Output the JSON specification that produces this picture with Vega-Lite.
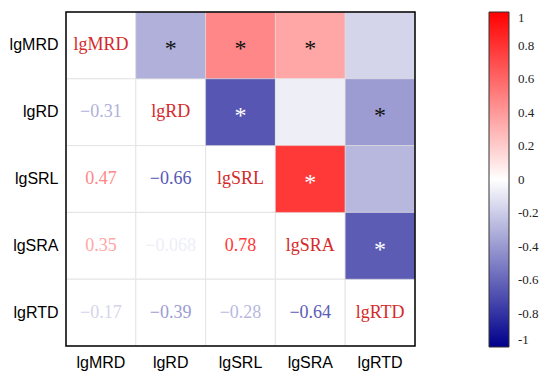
{
  "$schema": "https://vega.github.io/schema/vega-lite/v6.json",
  "width": 349,
  "height": 334,
  "autosize": {"type": "none"},
  "padding": {"left": 66, "top": 12, "right": 135, "bottom": 33},
  "background": "white",
  "config": {
    "view": {"stroke": "black", "strokeWidth": 1.5},
    "style": {"cell": {"strokeForeground": true}},
    "axis": {"domain": false, "ticks": false, "grid": false, "labelFont": "Liberation Sans", "labelFontSize": 16, "labelColor": "black", "title": null, "labelPadding": 8}
  },
  "data": {
    "values": [
      {"row": "lgMRD", "col": "lgMRD", "r": 1, "kind": "diag", "label": "lgMRD", "star": ""},
      {"row": "lgMRD", "col": "lgRD", "r": -0.31, "kind": "upper", "label": "", "star": "*"},
      {"row": "lgMRD", "col": "lgSRL", "r": 0.47, "kind": "upper", "label": "", "star": "*"},
      {"row": "lgMRD", "col": "lgSRA", "r": 0.35, "kind": "upper", "label": "", "star": "*"},
      {"row": "lgMRD", "col": "lgRTD", "r": -0.17, "kind": "upper", "label": "", "star": ""},
      {"row": "lgRD", "col": "lgMRD", "r": -0.31, "kind": "lower", "label": "−0.31", "star": ""},
      {"row": "lgRD", "col": "lgRD", "r": 1, "kind": "diag", "label": "lgRD", "star": ""},
      {"row": "lgRD", "col": "lgSRL", "r": -0.66, "kind": "upper", "label": "", "star": "*"},
      {"row": "lgRD", "col": "lgSRA", "r": -0.068, "kind": "upper", "label": "", "star": ""},
      {"row": "lgRD", "col": "lgRTD", "r": -0.39, "kind": "upper", "label": "", "star": "*"},
      {"row": "lgSRL", "col": "lgMRD", "r": 0.47, "kind": "lower", "label": "0.47", "star": ""},
      {"row": "lgSRL", "col": "lgRD", "r": -0.66, "kind": "lower", "label": "−0.66", "star": ""},
      {"row": "lgSRL", "col": "lgSRL", "r": 1, "kind": "diag", "label": "lgSRL", "star": ""},
      {"row": "lgSRL", "col": "lgSRA", "r": 0.78, "kind": "upper", "label": "", "star": "*"},
      {"row": "lgSRL", "col": "lgRTD", "r": -0.28, "kind": "upper", "label": "", "star": ""},
      {"row": "lgSRA", "col": "lgMRD", "r": 0.35, "kind": "lower", "label": "0.35", "star": ""},
      {"row": "lgSRA", "col": "lgRD", "r": -0.068, "kind": "lower", "label": "−0.068", "star": ""},
      {"row": "lgSRA", "col": "lgSRL", "r": 0.78, "kind": "lower", "label": "0.78", "star": ""},
      {"row": "lgSRA", "col": "lgSRA", "r": 1, "kind": "diag", "label": "lgSRA", "star": ""},
      {"row": "lgSRA", "col": "lgRTD", "r": -0.64, "kind": "upper", "label": "", "star": "*"},
      {"row": "lgRTD", "col": "lgMRD", "r": -0.17, "kind": "lower", "label": "−0.17", "star": ""},
      {"row": "lgRTD", "col": "lgRD", "r": -0.39, "kind": "lower", "label": "−0.39", "star": ""},
      {"row": "lgRTD", "col": "lgSRL", "r": -0.28, "kind": "lower", "label": "−0.28", "star": ""},
      {"row": "lgRTD", "col": "lgSRA", "r": -0.64, "kind": "lower", "label": "−0.64", "star": ""},
      {"row": "lgRTD", "col": "lgRTD", "r": 1, "kind": "diag", "label": "lgRTD", "star": ""}
    ]
  },
  "encoding": {
    "x": {"field": "col", "type": "nominal", "sort": ["lgMRD", "lgRD", "lgSRL", "lgSRA", "lgRTD"], "scale": {"paddingInner": 0, "paddingOuter": 0}, "axis": {"orient": "bottom", "labelAngle": 0}},
    "y": {"field": "row", "type": "nominal", "sort": ["lgMRD", "lgRD", "lgSRL", "lgSRA", "lgRTD"], "scale": {"paddingInner": 0, "paddingOuter": 0}}
  },
  "layer": [
    {
      "mark": {"type": "rect", "fill": "white", "stroke": "#e4e4e4", "strokeWidth": 1}
    },
    {
      "transform": [{"filter": "datum.kind === 'upper'"}],
      "mark": {"type": "rect", "stroke": "#e4e4e4", "strokeWidth": 0.5},
      "encoding": {
        "fill": {
          "field": "r", "type": "quantitative",
          "scale": {"domain": [-1, 0, 1], "range": ["#00008c", "#ffffff", "#ff0000"], "interpolate": "rgb"},
          "legend": {
            "orient": "none", "legendX": 423, "legendY": 0, "direction": "vertical",
            "gradientLength": 335, "gradientThickness": 20,
            "gradientStrokeColor": "#333", "gradientStrokeWidth": 1,
            "values": [-1, -0.8, -0.6, -0.4, -0.2, 0, 0.2, 0.4, 0.6, 0.8, 1],
            "labelExpr": "replace(format(datum.value, '~g'), '−', '-')",
            "labelFont": "Liberation Serif", "labelFontSize": 13, "labelColor": "#222",
            "labelOffset": 9, "labelOverlap": false, "title": null
          }
        }
      }
    },
    {
      "transform": [{"filter": "datum.kind === 'lower'"}],
      "mark": {"type": "text", "font": "Liberation Serif", "fontSize": 18},
      "encoding": {
        "text": {"field": "label"},
        "color": {
          "field": "r", "type": "quantitative",
          "scale": {"domain": [-1, 0, 1], "range": ["#00008c", "#ffffff", "#ff0000"], "interpolate": "rgb"},
          "legend": null
        }
      }
    },
    {
      "transform": [{"filter": "datum.kind === 'diag'"}],
      "mark": {"type": "text", "font": "Liberation Serif", "fontSize": 18, "color": "#d42a2a"},
      "encoding": {"text": {"field": "label"}}
    },
    {
      "transform": [{"filter": "datum.star === '*'"}],
      "mark": {"type": "text", "font": "Liberation Serif", "fontSize": 24, "dy": 4},
      "encoding": {
        "text": {"field": "star"},
        "color": {"condition": {"test": "abs(datum.r) > 0.6", "value": "white"}, "value": "#111"}
      }
    }
  ]
}
